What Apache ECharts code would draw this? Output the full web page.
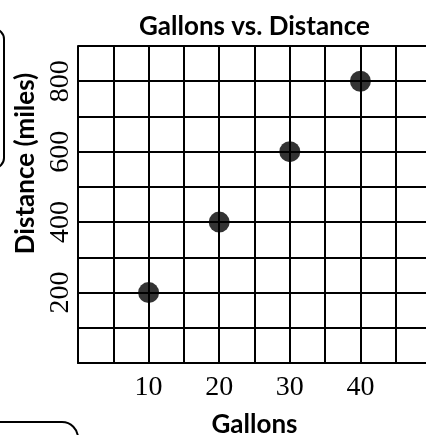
<!DOCTYPE html>
<html>
<head>
<meta charset="utf-8">
<script src="https://cdn.jsdelivr.net/npm/echarts@6/dist/echarts.min.js"></script>
<style>
html,body{margin:0;padding:0;background:#fff;}
#chart{width:426px;height:435px;}
</style>
</head>
<body>
<div id="chart"></div>
<script>
var gallons = [10, 20, 30, 40];
var distances = [200, 400, 600, 800];
var xTickLabels = [10, 20, 30, 40];
var yTickLabels = [200, 400, 600, 800];

var points = gallons.map(function (g, i) { return [g, distances[i]]; });

var chart = echarts.init(document.getElementById('chart'));
var lineStyle = { color: '#000', width: 2 };
chart.setOption({
  backgroundColor: '#fff',
  animation: false,
  title: {
    text: 'Gallons vs. Distance',
    left: 134,
    top: 9,
    textStyle: { fontFamily: 'Lato', fontWeight: 'bold', fontSize: 26, color: '#000' }
  },
  grid: { left: 78, top: 46, bottom: 72, right: -5, containLabel: false, outerBoundsMode: 'none' },
  xAxis: {
    type: 'value', min: 0, max: 50, interval: 5,
    name: 'Gallons', nameLocation: 'middle', nameGap: 49,
    nameTextStyle: { fontFamily: 'Lato', fontWeight: 'bold', fontSize: 26, color: '#000' },
    axisLine: { show: true, lineStyle: lineStyle },
    axisTick: { show: false },
    splitLine: { show: true, lineStyle: lineStyle },
    axisLabel: {
      margin: 11,
      fontFamily: 'Liberation Serif', fontSize: 28, color: '#000',
      formatter: function (v) { return xTickLabels.indexOf(v) >= 0 ? String(v) : ''; }
    }
  },
  yAxis: {
    type: 'value', min: 0, max: 900, interval: 100,
    name: 'Distance (miles)', nameLocation: 'middle', nameGap: 35, nameRotate: 90,
    nameTextStyle: { fontFamily: 'Lato', fontWeight: 'bold', fontSize: 26, color: '#000', padding: [0, 0, 0, 82] },
    axisLine: { show: true, lineStyle: lineStyle },
    axisTick: { show: false },
    splitLine: { show: true, lineStyle: lineStyle },
    axisLabel: {
      rotate: 90, margin: 3,
      fontFamily: 'Liberation Serif', fontSize: 28, color: '#000',
      formatter: function (v) { return yTickLabels.indexOf(v) >= 0 ? String(v) : ''; }
    }
  },
  graphic: [
    { type: 'rect', shape: { x: -40, y: 29, width: 44, height: 139, r: 10 },
      style: { fill: 'none', stroke: '#000', lineWidth: 2 } },
    { type: 'rect', shape: { x: -30, y: 422, width: 108, height: 60, r: 16 },
      style: { fill: 'none', stroke: '#000', lineWidth: 2 } }
  ],
  series: [{
    type: 'scatter',
    data: points,
    symbol: 'circle',
    symbolSize: 21,
    itemStyle: { color: '#000' }
  }]
});
</script>
</body>
</html>
